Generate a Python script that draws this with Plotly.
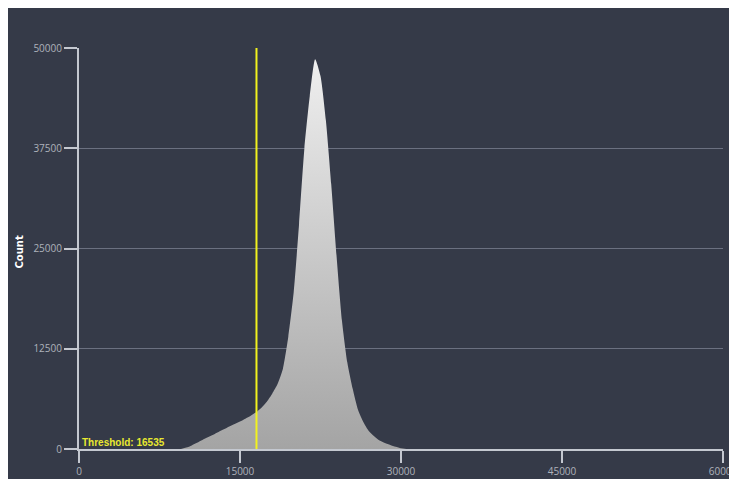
import plotly.graph_objects as go

# Histogram intensity bins (centers) and counts
bin_values = [9500, 10000, 10500, 11000, 11500, 12000, 12500, 13000, 13500, 14000,
              14500, 15000, 15500, 16000, 16500, 17000, 17500, 18000, 18500, 19000,
              19500, 20000, 20500, 21000, 21500, 22000, 22500, 23000, 23500, 24000,
              24500, 25000, 25500, 26000, 26500, 27000, 27500, 28000, 28500, 29000,
              29500, 30000, 30500]
counts = [0, 180, 450, 780, 1120, 1450, 1780, 2120, 2450, 2800,
          3120, 3440, 3780, 4150, 4580, 5150, 5900, 6900, 8100, 10000,
          14000, 19500, 28000, 37500, 44000, 48600, 46500, 41000, 33000, 24000,
          16000, 10800, 7500, 4860, 3350, 2250, 1600, 1050, 750, 500,
          280, 100, 0]
threshold = 16535
x_ticks = [0, 15000, 30000, 45000, 60000]
y_ticks = [0, 12500, 25000, 37500, 50000]

BG = "#353a48"
AX = "#c4c8d0"
GRID = "#6b7080"
TICKFONT = dict(family="Open Sans", size=10, color="#aeb2bb")

fig = go.Figure()
fig.add_trace(go.Scatter(
    x=bin_values, y=counts, mode="lines", line=dict(width=0, shape="spline", smoothing=0.6),
    fill="tozeroy",
    fillgradient=dict(type="vertical", colorscale=[[0, "#a4a4a4"], [1, "#efefef"]]),
    hoverinfo="skip", showlegend=False,
))
fig.add_trace(go.Scatter(
    x=[threshold, threshold], y=[0, y_ticks[-1]], mode="lines",
    line=dict(color="#f2f21e", width=2), showlegend=False, hoverinfo="skip",
))

fig.update_layout(
    width=729, height=471,
    margin=dict(l=71, r=14, t=40, b=30, autoexpand=False),
    paper_bgcolor=BG, plot_bgcolor=BG,
    xaxis=dict(range=[0, 60000], tickvals=x_ticks, ticktext=[str(v) for v in x_ticks],
               showgrid=False, zeroline=False, showline=True, linecolor=AX, linewidth=2,
               ticks="outside", ticklen=12, tickwidth=2, tickcolor=AX, tickfont=TICKFONT,
               ticklabeloverflow="allow", automargin=False),
    yaxis=dict(range=[0, 50000], tickvals=y_ticks, ticktext=[str(v) for v in y_ticks],
               showgrid=True, gridcolor=GRID, gridwidth=1, zeroline=False,
               showline=True, linecolor=AX, linewidth=2, automargin=False,
               ticks="outside", ticklen=13, tickwidth=2, tickcolor=AX, tickfont=TICKFONT),
    annotations=[
        dict(text="<b>Count</b>", x=-0.0916, y=0.49, xref="paper", yref="paper",
             xanchor="center", yanchor="middle",
             textangle=-90, showarrow=False,
             font=dict(family="DejaVu Sans", size=10, color="#ffffff")),
        dict(text="<b>Threshold: %d</b>" % threshold, x=0.003, y=0.0, xref="paper", yref="paper",
             xanchor="left", yanchor="bottom", showarrow=False, borderpad=0,
             font=dict(family="Liberation Sans", size=10, color="#e8e830")),
    ],
)

fig.write_html("out.html")
